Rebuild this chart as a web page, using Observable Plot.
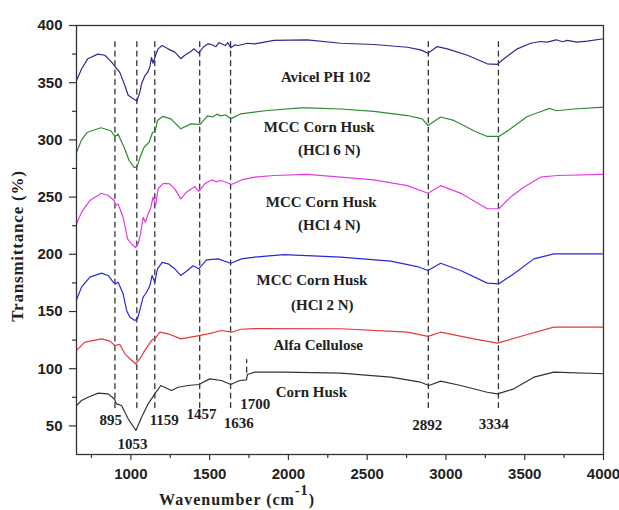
<!DOCTYPE html>
<html>
<head>
<meta charset="utf-8">
<script src="https://cdn.jsdelivr.net/npm/d3@7"></script>
<script src="https://cdn.jsdelivr.net/npm/@observablehq/plot@0.6"></script>
<style>
  html, body { margin: 0; padding: 0; background: #fff; }
  #chart { width: 619px; height: 510px; }
</style>
</head>
<body>
<div id="chart"></div>
<script>
// ---- Data (wavenumber cm^-1, transmittance %) ----
const avicel = [[655,352],[687,362],[727,371],[790,375],[835,374],[878,368],[903,363.5],[930,359],[962,347.5],[983,339],[1015,336],[1038,334],[1057,341.7],[1068,349],[1089,356],[1106,359],[1120,363.5],[1131,372],[1141,367],[1157,374],[1173,379.6],[1198,382.5],[1236,379.6],[1279,376.7],[1317,371],[1342,374],[1374,376.7],[1402,379.6],[1431,375.8],[1459,381],[1490,384],[1512,383.4],[1540,381.5],[1560,385],[1575,384],[1600,382.5],[1615,385],[1634,380.5],[1660,383],[1681,382.5],[1740,384.5],[1786,384],[1909,387],[2120,387.5],[2332,384.5],[2543,383.4],[2755,381],[2839,378.7],[2886,375.8],[2945,381.6],[3009,379.6],[3136,374],[3262,366.5],[3326,366],[3368,371],[3453,379.6],[3537,384.5],[3600,386],[3643,385.4],[3700,387.5],[3740,385.8],[3770,387],[3830,385.5],[3896,386.3],[4000,388.4]];
const hcl6 = [[655,289],[687,300],[725,306.7],[810,310.6],[873,308],[899,303],[919,305],[957,293.6],[989,282],[1021,276],[1038,276],[1059,285],[1084,293.6],[1116,298],[1138,306.7],[1154,306.7],[1169,317],[1201,320.5],[1254,318.4],[1317,309.7],[1381,314],[1440,313.5],[1486,321],[1520,320],[1545,322.5],[1571,321],[1600,322],[1634,318.4],[1698,322.8],[1867,325.7],[2078,328],[2121,328],[2332,327],[2543,325],[2755,321.3],[2850,318.4],[2886,312.6],[2966,320],[3050,317],[3177,308],[3262,303],[3336,303],[3410,309.7],[3516,320.5],[3621,325.7],[3660,327.5],[3700,325.5],[3812,327],[4000,328.6]];
const hcl4 = [[655,226.6],[687,236.8],[740,247],[814,253.4],[856,251.4],[894,247],[903,242.6],[919,244],[951,232.4],[979,213.5],[1004,209],[1030,206],[1046,209],[1063,219],[1078,232.4],[1093,228],[1110,235.4],[1127,241],[1141,250],[1157,242.6],[1173,257.2],[1205,262],[1247,261.6],[1279,257.2],[1317,248.5],[1353,254.3],[1385,257.2],[1406,259.3],[1431,255],[1469,261.6],[1512,265],[1545,263.5],[1575,264.5],[1639,261],[1702,265],[1786,267.4],[1909,268.9],[2121,269.8],[2332,267.4],[2543,265],[2755,260],[2886,253.4],[2966,260],[3100,253],[3262,239.8],[3336,239.8],[3410,250],[3494,258.7],[3600,267.4],[3706,268.9],[4000,269.8]];
const hcl2 = [[655,160.2],[687,171.3],[740,180],[814,183.5],[856,181.5],[888,175.6],[903,174.2],[919,175.6],[951,165.5],[973,150.9],[994,145],[1025,142.1],[1042,143.6],[1059,152.3],[1078,162.5],[1093,165.5],[1106,168.4],[1121,172.7],[1135,181.5],[1152,175.6],[1169,187.3],[1199,193],[1237,191.7],[1279,187.3],[1317,181.5],[1353,185.2],[1395,190],[1431,187.3],[1480,195.2],[1554,196],[1634,192.2],[1702,196],[1786,197.5],[1972,199.8],[2332,197.5],[2649,194],[2818,189.3],[2886,185.8],[2966,192.2],[3093,185.8],[3262,174.8],[3336,174.2],[3431,183],[3558,196],[3685,200.4],[4000,200.4]];
const alfa = [[655,116],[708,123.2],[814,126.1],[867,124.1],[899,120.3],[930,121.2],[962,113],[994,108.7],[1030,104.3],[1057,108.7],[1089,116],[1131,124.6],[1157,127],[1184,131.9],[1237,130.5],[1317,126.1],[1406,128.2],[1490,130.5],[1575,133.4],[1639,131.9],[1698,134.5],[1786,135],[2332,134.9],[2755,131.9],[2886,128.2],[2966,131.9],[3177,126.1],[3326,122.3],[3494,129],[3685,136.3],[4000,136.3]];
const cornHusk = [[655,67.8],[687,72.2],[729,75.1],[793,78.6],[856,78],[894,73.7],[909,69.3],[941,67.8],[983,56.2],[1032,46],[1068,57.6],[1110,69.3],[1152,78],[1190,85.3],[1258,80.9],[1300,83.8],[1363,85.3],[1431,86.2],[1501,91.1],[1575,89.7],[1634,86.2],[1691,89.7],[1734,90.3],[1740,95],[1755,95.6],[1786,97],[1972,97],[2332,96.1],[2649,92.6],[2839,88.2],[2892,85.3],[2966,89.1],[3093,85.3],[3262,79.4],[3326,78],[3431,82.4],[3558,92.6],[3685,97],[4000,95.6]];

const seriesNames  = ["Avicel PH 102", "MCC Corn Husk (HCl 6 N)", "MCC Corn Husk (HCl 4 N)", "MCC Corn Husk (HCl 2 N)", "Alfa Cellulose", "Corn Husk"];
const seriesData   = [avicel, hcl6, hcl4, hcl2, alfa, cornHusk];
const seriesColors = ["#2b2b8e", "#2f8a2f", "#e23ce2", "#2a2ad8", "#e03a3a", "#333333"];

// Labels placed on the curves
const curveLabelText = ["Avicel PH 102", "MCC Corn Husk", "(HCl 6 N)", "MCC Corn Husk", "(HCl 4 N)", "MCC Corn Husk", "(HCl 2 N)", "Alfa Cellulose", "Corn Husk"];
const curveLabelX    = [2237, 2196, 2259, 2208, 2260, 2150, 2215, 2189, 2146];
const curveLabelY    = [354.8, 311, 290.7, 245.6, 225.2, 177, 155.3, 120.9, 79.5];

// Peak markers
const peakLineX  = [899, 1038, 1152, 1437, 1633, 2888, 3333];
const peakLineY  = [66, 389];
const shortLineX = [1735];
const shortLineY = [97, 108];
const peakText   = ["895", "1053", "1159", "1457", "1636", "1700", "2892", "3334"];
const peakTextX  = [873, 1011, 1212, 1449, 1685, 1790, 2882, 3304];
const peakTextY  = [54.7, 34.4, 54.7, 60, 52.4, 69.3, 50.4, 51.8];

const xTicks = [1000, 1500, 2000, 2500, 3000, 3500, 4000];
const xMinor = [750, 1250, 1750, 2250, 2750, 3250, 3750];
const yTicks = [50, 100, 150, 200, 250, 300, 350, 400];
const yMinor = [75, 125, 175, 225, 275, 325, 375];

const rows = [];
seriesData.forEach((arr, i) => arr.forEach(([w, t]) => rows.push({series: seriesNames[i], w, t})));
const peakLines = [];
peakLineX.forEach(x => { peakLines.push({x, y: peakLineY[0], g: x}); peakLines.push({x, y: peakLineY[1], g: x}); });
shortLineX.forEach(x => { peakLines.push({x, y: shortLineY[0], g: x}); peakLines.push({x, y: shortLineY[1], g: x}); });
const curveLabels = curveLabelText.map((s, i) => ({s, x: curveLabelX[i], y: curveLabelY[i]}));
const peakLabels = peakText.map((s, i) => ({s, x: peakTextX[i], y: peakTextY[i]}));

const serif = "'Liberation Serif', 'Times New Roman', serif";
const sans = "'Liberation Sans', Arial, sans-serif";
const plain = d => String(d);

const svg = Plot.plot({
  width: 619,
  height: 510,
  marginLeft: 76,
  marginRight: 16,
  marginTop: 25,
  marginBottom: 56,
  style: {fontFamily: sans, fontSize: "15px", fontWeight: "bold", color: "#222", background: "#fff", overflow: "visible"},
  x: {domain: [655, 4000], label: null},
  y: {domain: [25, 400], label: null},
  color: {domain: seriesNames, range: seriesColors},
  marks: [
    Plot.line(peakLines, {x: "x", y: "y", z: "g", stroke: "#333", strokeWidth: 1.3, strokeDasharray: "5,4.5"}),
    Plot.line(rows, {x: "w", y: "t", z: "series", stroke: "series", strokeWidth: 1.2, curve: "linear"}),
    Plot.text(curveLabels, {x: "x", y: "y", text: "s", fontFamily: serif, fontSize: 15, fontWeight: "bold", fill: "#222", style: "letter-spacing:0.8px"}),
    Plot.text(peakLabels, {x: "x", y: "y", text: "s", fontFamily: serif, fontSize: 15, fontWeight: "bold", fill: "#222"}),
    Plot.axisX({ticks: xTicks, tickFormat: plain, tickSize: 6, tickPadding: 8, stroke: "#333", strokeWidth: 1.2, fontSize: 15}),
    Plot.axisX({ticks: xMinor, tickSize: 4, text: null, stroke: "#333", strokeWidth: 1.2}),
    Plot.axisY({ticks: yTicks, tickFormat: plain, tickSize: 7, tickPadding: 7, stroke: "#333", strokeWidth: 1.2, fontSize: 15}),
    Plot.axisY({ticks: yMinor, tickSize: 4, text: null, stroke: "#333", strokeWidth: 1.2}),
    Plot.frame({stroke: "#333", strokeWidth: 1.3})
  ]
});

const s = d3.select(svg);
s.append("text")
  .attr("transform", "translate(19,246) rotate(-90)")
  .attr("text-anchor", "middle")
  .attr("dominant-baseline", "middle")
  .style("font-family", serif).style("font-weight", "bold").style("font-size", "17px")
  .style("letter-spacing", "0.8px").attr("fill", "#222")
  .text("Transmittance (%)");
const xl = s.append("text")
  .attr("x", 237).attr("y", 505)
  .style("font-family", serif).style("font-weight", "bold").style("font-size", "16px")
  .style("letter-spacing", "1px").attr("fill", "#222");
xl.append("tspan").text("Wavenumber (cm");
xl.append("tspan").attr("dy", -10).style("font-size", "14px").text("-1");
xl.append("tspan").attr("dy", 10).text(")");

document.getElementById("chart").appendChild(svg);
</script>
</body>
</html>
